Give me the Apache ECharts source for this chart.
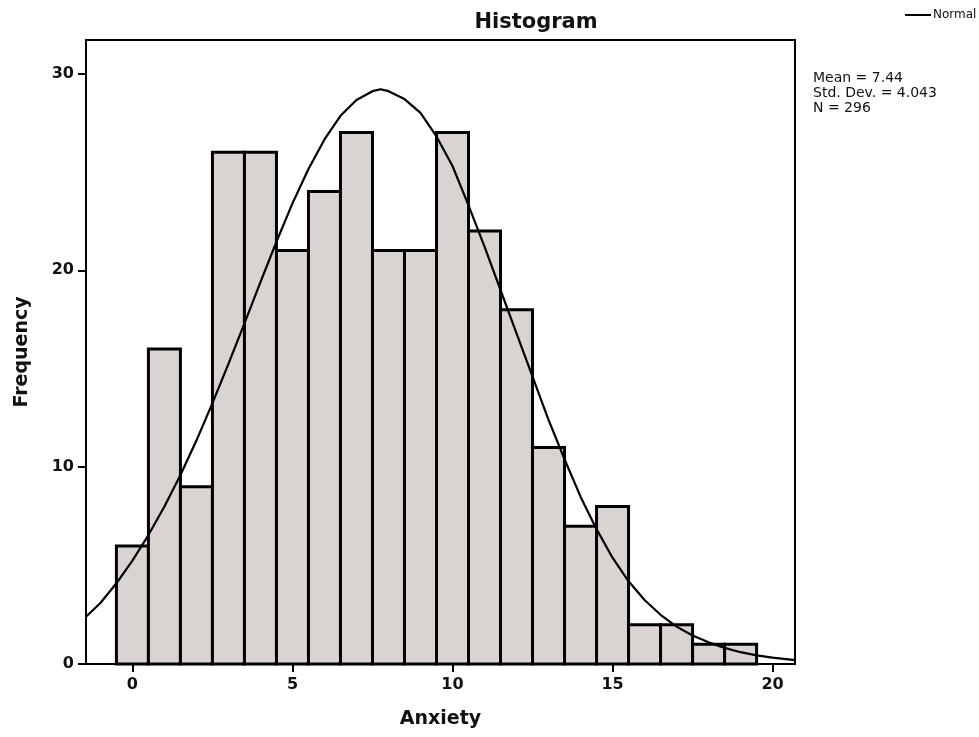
<!DOCTYPE html>
<html><head><meta charset="utf-8">
<script src="https://cdn.jsdelivr.net/npm/echarts@6/dist/echarts.min.js"></script>
<style>html,body{margin:0;padding:0;background:#fff}#c{width:979px;height:737px}</style>
</head><body><div id="c"></div>
<script>
// Histogram bins (bin centre) and frequencies
const binCenters = [0,1,2,3,4,5,6,7,8,9,10,11,12,13,14,15,16,17,18,19];
const frequencies = [6,16,9,26,26,21,24,27,21,21,27,22,18,11,7,8,2,2,1,1];
// Normal curve, points
const curveX = [-1.45,-1,-0.5,0,0.5,1,1.5,2,2.5,3,3.5,4,4.5,5,5.5,6,6.5,7,7.5,7.75,8,8.5,9,9.5,10,10.5,11,11.5,12,12.5,13,13.5,14,14.5,15,15.5,16,16.5,17,17.5,18,18.5,19,19.5,20,20.7];
const curveY = [2.4,3.1,4.1,5.25,6.55,8.0,9.6,11.35,13.25,15.25,17.3,19.4,21.45,23.4,25.15,26.65,27.85,28.65,29.1,29.2,29.1,28.7,28.0,26.8,25.3,23.3,21.2,19.0,16.8,14.6,12.4,10.4,8.5,6.85,5.4,4.2,3.25,2.5,1.9,1.45,1.1,0.82,0.6,0.44,0.32,0.2];
const xTicks = [0,5,10,15,20];
const yTicks = [0,10,20,30];
const statsLines = ['Mean = 7.44','Std. Dev. = 4.043','N = 296'];

const font = '"DejaVu Sans", "Liberation Sans", Arial, sans-serif';
const chart = echarts.init(document.getElementById('c'), null, {renderer:'canvas'});
chart.setOption({
  backgroundColor:'#fff',
  animation:false,
  title:{text:'Histogram', left:531, top:7, textAlign:'center',
    textStyle:{fontFamily:font, fontWeight:'bold', fontSize:21, color:'#111'}},
  legend:{data:['Normal'], left:904, top:9, padding:0, itemWidth:26, itemHeight:2, itemGap:2,
    textStyle:{fontFamily:font, fontSize:12, color:'#111', padding:[0,0,0,-3]}},
  graphic:[{type:'text', left:813, top:71,
    style:{text:statsLines.join('\n'), font:'14px '+font, fill:'#111', lineHeight:15}}],
  grid:{left:86, right:184, top:40, bottom:73, outerBoundsMode:'none', containLabel:false,
    show:true, borderColor:'#000', borderWidth:2, backgroundColor:'transparent'},
  xAxis:{type:'value', min:-1.45, max:20.7, name:'Anxiety', nameLocation:'middle', nameGap:46,
    nameTextStyle:{fontFamily:font, fontWeight:'bold', fontSize:19, color:'#111'},
    axisLine:{show:true, onZero:false, lineStyle:{color:'#000', width:2}},
    axisTick:{show:true, length:8, lineStyle:{color:'#000', width:2}, customValues:xTicks},
    axisLabel:{fontFamily:font, fontWeight:'bold', fontSize:16, color:'#111', margin:13, customValues:xTicks},
    splitLine:{show:false}},
  yAxis:{type:'value', min:0, max:31.7, name:'Frequency', nameLocation:'middle', nameGap:54, nameRotate:90,
    nameTextStyle:{fontFamily:font, fontWeight:'bold', fontSize:19, color:'#111'},
    axisLine:{show:true, onZero:false, lineStyle:{color:'#000', width:2}},
    axisTick:{show:true, length:8, lineStyle:{color:'#000', width:2}, customValues:yTicks},
    axisLabel:{fontFamily:font, fontWeight:'bold', fontSize:16, color:'#111', margin:12, customValues:yTicks},
    splitLine:{show:false}},
  series:[
    {type:'custom', name:'Frequency', z:2,
     data: binCenters.map((c,i)=>[c, frequencies[i]]),
     renderItem:function(params, api){
       const x = api.value(0), y = api.value(1);
       const p0 = api.coord([x-0.5, y]);
       const p1 = api.coord([x+0.5, 0]);
       return {type:'rect', shape:{x:p0[0], y:p0[1], width:p1[0]-p0[0], height:p1[1]-p0[1]},
         style:{fill:'#d9d3d2', stroke:'#000', lineWidth:3}};
     }},
    {type:'line', name:'Normal', z:3, smooth:false, symbol:'none',
     data: curveX.map((x,i)=>[x, curveY[i]]),
     lineStyle:{color:'#000', width:2.2, join:'round'}, itemStyle:{color:'#000'}}
  ]
});
</script></body></html>
